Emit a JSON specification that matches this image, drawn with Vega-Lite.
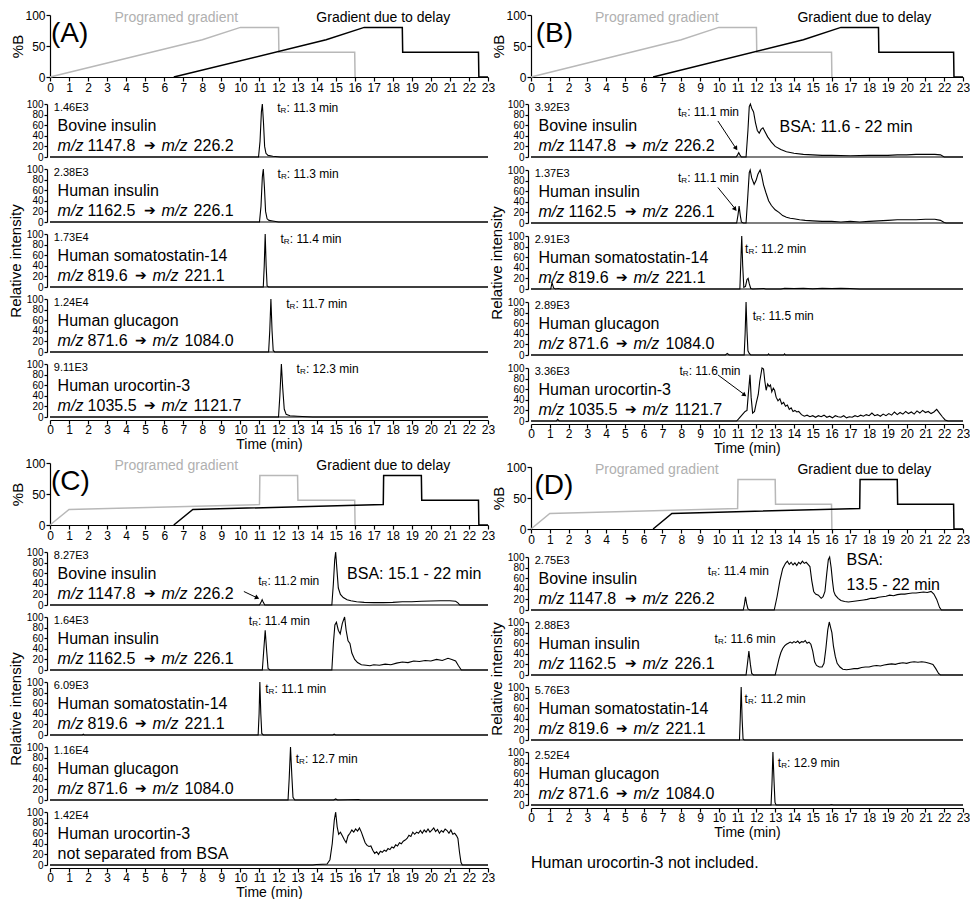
{
"$schema": "https://vega.github.io/schema/vega-lite/v6.json",
"padding": {"left": 8, "top": 9, "right": 0, "bottom": 0},
"config": {"font": "Liberation Sans", "view": {"stroke": null},
 "axis": {"grid": false, "labelOverlap": false, "domainColor": "black", "tickColor": "black", "labelColor": "black", "titleColor": "black", "labelFont": "Liberation Sans", "titleFont": "Liberation Sans", "domainWidth": 1.2, "tickWidth": 1.2},
 "header": {"titleFont": "Liberation Sans", "titleColor": "black"},
 "title": {"font": "Liberation Sans", "color": "black"}},
"datasets": {
"gAB": [{"g":"programed","t":0,"v":0},{"g":"programed","t":8,"v":60},{"g":"programed","t":10,"v":80},{"g":"programed","t":12,"v":80},{"g":"programed","t":12.02,"v":40},{"g":"programed","t":16,"v":40},{"g":"programed","t":16.02,"v":0},
{"g":"shifted","t":6.5,"v":0},{"g":"shifted","t":14.5,"v":60},{"g":"shifted","t":16.5,"v":80},{"g":"shifted","t":18.5,"v":80},{"g":"shifted","t":18.52,"v":40},{"g":"shifted","t":22.5,"v":40},{"g":"shifted","t":22.52,"v":0},{"g":"shifted","t":23,"v":0}],
"gCD": [{"g":"programed","t":0,"v":0},{"g":"programed","t":1,"v":25},{"g":"programed","t":11,"v":33},{"g":"programed","t":11.02,"v":80},{"g":"programed","t":13,"v":80},{"g":"programed","t":13.02,"v":40},{"g":"programed","t":16,"v":40},{"g":"programed","t":16.02,"v":0},
{"g":"shifted","t":6.5,"v":0},{"g":"shifted","t":7.5,"v":25},{"g":"shifted","t":17.5,"v":33},{"g":"shifted","t":17.52,"v":80},{"g":"shifted","t":19.5,"v":80},{"g":"shifted","t":19.52,"v":40},{"g":"shifted","t":22.5,"v":40},{"g":"shifted","t":22.52,"v":0},{"g":"shifted","t":23,"v":0}],
"tA": [
{"k":1,"t":0,"v":0},{"k":1,"t":10.95,"v":0},{"k":1,"t":11.03,"v":30},{"k":1,"t":11.1,"v":85},{"k":1,"t":11.15,"v":100},{"k":1,"t":11.21,"v":65},{"k":1,"t":11.27,"v":20},{"k":1,"t":11.34,"v":7},{"k":1,"t":11.45,"v":3},{"k":1,"t":11.7,"v":1.5},{"k":1,"t":12.1,"v":0},{"k":1,"t":23,"v":0},
{"k":2,"t":0,"v":0},{"k":2,"t":11.0,"v":0},{"k":2,"t":11.08,"v":30},{"k":2,"t":11.15,"v":85},{"k":2,"t":11.2,"v":100},{"k":2,"t":11.26,"v":65},{"k":2,"t":11.32,"v":20},{"k":2,"t":11.4,"v":6},{"k":2,"t":11.5,"v":3},{"k":2,"t":11.7,"v":2},{"k":2,"t":12.0,"v":0},{"k":2,"t":23,"v":0},
{"k":3,"t":0,"v":0},{"k":3,"t":11.2,"v":0},{"k":3,"t":11.25,"v":40},{"k":3,"t":11.3,"v":100},{"k":3,"t":11.35,"v":40},{"k":3,"t":11.4,"v":2},{"k":3,"t":11.48,"v":0},{"k":3,"t":23,"v":0},
{"k":4,"t":0,"v":0},{"k":4,"t":11.48,"v":0},{"k":4,"t":11.54,"v":40},{"k":4,"t":11.6,"v":100},{"k":4,"t":11.66,"v":40},{"k":4,"t":11.72,"v":3},{"k":4,"t":11.8,"v":0},{"k":4,"t":23,"v":0},
{"k":5,"t":0,"v":0},{"k":5,"t":12.0,"v":0},{"k":5,"t":12.07,"v":40},{"k":5,"t":12.15,"v":100},{"k":5,"t":12.22,"v":55},{"k":5,"t":12.3,"v":15},{"k":5,"t":12.4,"v":5},{"k":5,"t":12.6,"v":2.5},{"k":5,"t":13.0,"v":1.5},{"k":5,"t":13.5,"v":0.5},{"k":5,"t":13.8,"v":0},{"k":5,"t":23,"v":0},
{"k":1,"inten":"1.46E3","name":"Bovine insulin","pre":"1147.8","pro":"226.2","lx":11.93,"ly":92,"tr":": 11.3 min"},
{"k":2,"inten":"2.38E3","name":"Human insulin","pre":"1162.5","pro":"226.1","lx":11.95,"ly":90,"tr":": 11.3 min"},
{"k":3,"inten":"1.73E4","name":"Human somatostatin-14","pre":"819.6","pro":"221.1","lx":12.1,"ly":90,"tr":": 11.4 min"},
{"k":4,"inten":"1.24E4","name":"Human glucagon","pre":"871.6","pro":"1084.0","lx":12.4,"ly":90,"tr":": 11.7 min"},
{"k":5,"inten":"9.11E3","name":"Human urocortin-3","pre":"1035.5","pro":"1121.7","lx":12.95,"ly":90,"tr":": 12.3 min"}
],
"tB": [
{"k":1,"t":0,"v":0},{"k":1,"t":10.92,"v":0},{"k":1,"t":11.0,"v":4},{"k":1,"t":11.06,"v":8},{"k":1,"t":11.12,"v":4},{"k":1,"t":11.2,"v":0},{"k":1,"t":11.45,"v":0},{"k":1,"t":11.55,"v":50},{"k":1,"t":11.62,"v":95},{"k":1,"t":11.68,"v":100},{"k":1,"t":11.75,"v":92},{"k":1,"t":11.85,"v":85},{"k":1,"t":11.95,"v":65},{"k":1,"t":12.05,"v":50},{"k":1,"t":12.15,"v":45},{"k":1,"t":12.25,"v":52},{"k":1,"t":12.35,"v":55},{"k":1,"t":12.45,"v":48},{"k":1,"t":12.6,"v":38},{"k":1,"t":12.8,"v":28},{"k":1,"t":13.0,"v":20},{"k":1,"t":13.3,"v":14},{"k":1,"t":13.6,"v":10},{"k":1,"t":14.0,"v":7},{"k":1,"t":14.5,"v":5},{"k":1,"t":15.0,"v":4},{"k":1,"t":15.5,"v":3},{"k":1,"t":16.0,"v":3},{"k":1,"t":17.0,"v":2.5},{"k":1,"t":18.0,"v":3},{"k":1,"t":19.0,"v":3},{"k":1,"t":19.5,"v":4},{"k":1,"t":20.0,"v":4},{"k":1,"t":20.5,"v":5},{"k":1,"t":21.0,"v":5},{"k":1,"t":21.5,"v":5},{"k":1,"t":21.8,"v":4},{"k":1,"t":22.0,"v":0},{"k":1,"t":23,"v":0},
{"k":2,"t":0,"v":0},{"k":2,"t":10.95,"v":0},{"k":2,"t":11.02,"v":15},{"k":2,"t":11.08,"v":32},{"k":2,"t":11.14,"v":15},{"k":2,"t":11.2,"v":2},{"k":2,"t":11.3,"v":0},{"k":2,"t":11.45,"v":0},{"k":2,"t":11.55,"v":55},{"k":2,"t":11.62,"v":95},{"k":2,"t":11.67,"v":100},{"k":2,"t":11.75,"v":85},{"k":2,"t":11.88,"v":73},{"k":2,"t":11.98,"v":80},{"k":2,"t":12.08,"v":92},{"k":2,"t":12.2,"v":100},{"k":2,"t":12.28,"v":90},{"k":2,"t":12.38,"v":72},{"k":2,"t":12.5,"v":58},{"k":2,"t":12.65,"v":42},{"k":2,"t":12.8,"v":33},{"k":2,"t":13.0,"v":25},{"k":2,"t":13.2,"v":20},{"k":2,"t":13.4,"v":14},{"k":2,"t":13.6,"v":11},{"k":2,"t":13.8,"v":9},{"k":2,"t":14.0,"v":8},{"k":2,"t":14.3,"v":6},{"k":2,"t":14.6,"v":5},{"k":2,"t":15.0,"v":4},{"k":2,"t":15.5,"v":3},{"k":2,"t":16.0,"v":3},{"k":2,"t":16.5,"v":2},{"k":2,"t":17.0,"v":3},{"k":2,"t":17.5,"v":2},{"k":2,"t":18.0,"v":3},{"k":2,"t":18.5,"v":4},{"k":2,"t":19.0,"v":5},{"k":2,"t":19.5,"v":6},{"k":2,"t":20.0,"v":6},{"k":2,"t":20.5,"v":6},{"k":2,"t":21.0,"v":7},{"k":2,"t":21.5,"v":7},{"k":2,"t":21.8,"v":5},{"k":2,"t":22.0,"v":1},{"k":2,"t":22.1,"v":0},{"k":2,"t":23,"v":0},
{"k":3,"t":0,"v":0},{"k":3,"t":1.05,"v":0},{"k":3,"t":1.12,"v":12},{"k":3,"t":1.2,"v":2},{"k":3,"t":1.3,"v":0},{"k":3,"t":1.45,"v":1},{"k":3,"t":1.6,"v":0},{"k":3,"t":11.12,"v":0},{"k":3,"t":11.17,"v":50},{"k":3,"t":11.22,"v":100},{"k":3,"t":11.27,"v":45},{"k":3,"t":11.33,"v":3},{"k":3,"t":11.42,"v":5},{"k":3,"t":11.5,"v":18},{"k":3,"t":11.56,"v":20},{"k":3,"t":11.62,"v":10},{"k":3,"t":11.7,"v":1},{"k":3,"t":11.8,"v":0},{"k":3,"t":12.4,"v":1},{"k":3,"t":12.5,"v":0},{"k":3,"t":13.3,"v":0},{"k":3,"t":13.5,"v":1.5},{"k":3,"t":14.0,"v":1},{"k":3,"t":14.5,"v":1.5},{"k":3,"t":15.0,"v":0.5},{"k":3,"t":15.5,"v":1.5},{"k":3,"t":16.0,"v":1},{"k":3,"t":16.5,"v":1.5},{"k":3,"t":17.0,"v":1},{"k":3,"t":17.5,"v":0},{"k":3,"t":23,"v":0},
{"k":4,"t":0,"v":0},{"k":4,"t":10.35,"v":0},{"k":4,"t":10.45,"v":3},{"k":4,"t":10.55,"v":0},{"k":4,"t":11.35,"v":0},{"k":4,"t":11.4,"v":40},{"k":4,"t":11.45,"v":100},{"k":4,"t":11.5,"v":45},{"k":4,"t":11.55,"v":8},{"k":4,"t":11.62,"v":3},{"k":4,"t":11.7,"v":0},{"k":4,"t":12.6,"v":0},{"k":4,"t":12.65,"v":2},{"k":4,"t":12.7,"v":0},{"k":4,"t":13.45,"v":0},{"k":4,"t":13.5,"v":2},{"k":4,"t":13.55,"v":0},{"k":4,"t":23,"v":0},
{"k":5,"t":0,"v":0},{"k":5,"t":1.35,"v":0},{"k":5,"t":1.42,"v":3},{"k":5,"t":1.5,"v":0},{"k":5,"t":10.95,"v":0},{"k":5,"t":11.1,"v":6},{"k":5,"t":11.25,"v":12},{"k":5,"t":11.4,"v":18},{"k":5,"t":11.5,"v":20},{"k":5,"t":11.58,"v":55},{"k":5,"t":11.66,"v":87},{"k":5,"t":11.72,"v":45},{"k":5,"t":11.8,"v":15},{"k":5,"t":11.9,"v":18},{"k":5,"t":12.0,"v":35},{"k":5,"t":12.1,"v":50},{"k":5,"t":12.18,"v":75},{"k":5,"t":12.3,"v":100},{"k":5,"t":12.38,"v":98},{"k":5,"t":12.45,"v":75},{"k":5,"t":12.52,"v":58},{"k":5,"t":12.6,"v":70},{"k":5,"t":12.68,"v":65},{"k":5,"t":12.75,"v":68},{"k":5,"t":12.82,"v":55},{"k":5,"t":12.9,"v":62},{"k":5,"t":12.97,"v":58},{"k":5,"t":13.05,"v":45},{"k":5,"t":13.15,"v":38},{"k":5,"t":13.25,"v":42},{"k":5,"t":13.35,"v":32},{"k":5,"t":13.45,"v":35},{"k":5,"t":13.55,"v":28},{"k":5,"t":13.65,"v":30},{"k":5,"t":13.75,"v":22},{"k":5,"t":13.85,"v":25},{"k":5,"t":13.95,"v":18},{"k":5,"t":14.05,"v":20},{"k":5,"t":14.15,"v":17},{"k":5,"t":14.25,"v":18},{"k":5,"t":14.4,"v":12},{"k":5,"t":14.55,"v":9},{"k":5,"t":14.7,"v":11},{"k":5,"t":14.85,"v":8},{"k":5,"t":15.0,"v":10},{"k":5,"t":15.15,"v":7},{"k":5,"t":15.3,"v":10},{"k":5,"t":15.45,"v":8},{"k":5,"t":15.6,"v":11},{"k":5,"t":15.75,"v":7},{"k":5,"t":15.9,"v":9},{"k":5,"t":16.05,"v":6},{"k":5,"t":16.2,"v":10},{"k":5,"t":16.35,"v":8},{"k":5,"t":16.5,"v":7},{"k":5,"t":16.65,"v":10},{"k":5,"t":16.8,"v":6},{"k":5,"t":16.95,"v":8},{"k":5,"t":17.1,"v":7},{"k":5,"t":17.25,"v":10},{"k":5,"t":17.4,"v":8},{"k":5,"t":17.55,"v":11},{"k":5,"t":17.7,"v":9},{"k":5,"t":17.85,"v":12},{"k":5,"t":18.0,"v":10},{"k":5,"t":18.15,"v":15},{"k":5,"t":18.3,"v":10},{"k":5,"t":18.45,"v":12},{"k":5,"t":18.6,"v":9},{"k":5,"t":18.75,"v":13},{"k":5,"t":18.9,"v":10},{"k":5,"t":19.05,"v":14},{"k":5,"t":19.2,"v":11},{"k":5,"t":19.35,"v":17},{"k":5,"t":19.5,"v":12},{"k":5,"t":19.65,"v":16},{"k":5,"t":19.8,"v":13},{"k":5,"t":19.95,"v":18},{"k":5,"t":20.1,"v":14},{"k":5,"t":20.25,"v":17},{"k":5,"t":20.4,"v":13},{"k":5,"t":20.55,"v":19},{"k":5,"t":20.7,"v":15},{"k":5,"t":20.85,"v":20},{"k":5,"t":21.0,"v":16},{"k":5,"t":21.15,"v":18},{"k":5,"t":21.3,"v":14},{"k":5,"t":21.45,"v":17},{"k":5,"t":21.6,"v":22},{"k":5,"t":21.75,"v":15},{"k":5,"t":21.9,"v":8},{"k":5,"t":22.05,"v":2},{"k":5,"t":22.2,"v":0},{"k":5,"t":23,"v":0},
{"k":1,"inten":"3.92E3","name":"Bovine insulin","pre":"1147.8","pro":"226.2","lx":7.82,"ly":85,"tr":": 11.1 min"},
{"k":2,"inten":"1.37E3","name":"Human insulin","pre":"1162.5","pro":"226.1","lx":7.82,"ly":84,"tr":": 11.1 min"},
{"k":3,"inten":"2.91E3","name":"Human somatostatin-14","pre":"819.6","pro":"221.1","lx":11.4,"ly":76,"tr":": 11.2 min"},
{"k":4,"inten":"2.89E3","name":"Human glucagon","pre":"871.6","pro":"1084.0","lx":11.8,"ly":73,"tr":": 11.5 min"},
{"k":5,"inten":"3.36E3","name":"Human urocortin-3","pre":"1035.5","pro":"1121.7","lx":7.9,"ly":95,"tr":": 11.6 min"},
{"k":1,"note":"BSA: 11.6 - 22 min","nx":13.23,"ny":57}
],
"tC": [
{"k":1,"t":0,"v":0},{"k":1,"t":11.0,"v":0},{"k":1,"t":11.08,"v":5},{"k":1,"t":11.14,"v":10},{"k":1,"t":11.2,"v":5},{"k":1,"t":11.28,"v":0},{"k":1,"t":14.8,"v":0},{"k":1,"t":14.88,"v":40},{"k":1,"t":14.95,"v":85},{"k":1,"t":15.0,"v":100},{"k":1,"t":15.06,"v":70},{"k":1,"t":15.14,"v":32},{"k":1,"t":15.25,"v":20},{"k":1,"t":15.4,"v":14},{"k":1,"t":15.6,"v":10},{"k":1,"t":15.8,"v":8},{"k":1,"t":16.1,"v":6},{"k":1,"t":16.5,"v":5},{"k":1,"t":17.0,"v":4.5},{"k":1,"t":17.5,"v":4.5},{"k":1,"t":18.0,"v":5},{"k":1,"t":18.5,"v":6},{"k":1,"t":19.0,"v":6},{"k":1,"t":19.5,"v":7},{"k":1,"t":20.0,"v":7.5},{"k":1,"t":20.5,"v":8},{"k":1,"t":21.0,"v":8},{"k":1,"t":21.3,"v":7},{"k":1,"t":21.42,"v":4},{"k":1,"t":21.52,"v":0},{"k":1,"t":23,"v":0},
{"k":2,"t":0,"v":0},{"k":2,"t":11.15,"v":0},{"k":2,"t":11.22,"v":35},{"k":2,"t":11.3,"v":75},{"k":2,"t":11.38,"v":35},{"k":2,"t":11.45,"v":3},{"k":2,"t":11.55,"v":0},{"k":2,"t":14.8,"v":0},{"k":2,"t":14.88,"v":50},{"k":2,"t":14.96,"v":85},{"k":2,"t":15.04,"v":90},{"k":2,"t":15.14,"v":75},{"k":2,"t":15.24,"v":68},{"k":2,"t":15.35,"v":88},{"k":2,"t":15.47,"v":100},{"k":2,"t":15.55,"v":75},{"k":2,"t":15.65,"v":55},{"k":2,"t":15.75,"v":50},{"k":2,"t":15.85,"v":32},{"k":2,"t":16.0,"v":20},{"k":2,"t":16.15,"v":14},{"k":2,"t":16.35,"v":10},{"k":2,"t":16.6,"v":9},{"k":2,"t":16.8,"v":8},{"k":2,"t":17.0,"v":10},{"k":2,"t":17.3,"v":9},{"k":2,"t":17.6,"v":11},{"k":2,"t":17.9,"v":10},{"k":2,"t":18.2,"v":13},{"k":2,"t":18.5,"v":15},{"k":2,"t":18.8,"v":14},{"k":2,"t":19.1,"v":17},{"k":2,"t":19.4,"v":16},{"k":2,"t":19.7,"v":18},{"k":2,"t":20.0,"v":17},{"k":2,"t":20.3,"v":20},{"k":2,"t":20.6,"v":18},{"k":2,"t":20.9,"v":22},{"k":2,"t":21.1,"v":20},{"k":2,"t":21.3,"v":17},{"k":2,"t":21.45,"v":8},{"k":2,"t":21.6,"v":0},{"k":2,"t":23,"v":0},
{"k":3,"t":0,"v":0},{"k":3,"t":1.7,"v":0},{"k":3,"t":1.75,"v":1.5},{"k":3,"t":1.8,"v":0},{"k":3,"t":10.93,"v":0},{"k":3,"t":10.98,"v":40},{"k":3,"t":11.02,"v":100},{"k":3,"t":11.07,"v":40},{"k":3,"t":11.12,"v":3},{"k":3,"t":11.2,"v":0},{"k":3,"t":14.85,"v":0},{"k":3,"t":14.92,"v":1.5},{"k":3,"t":15.0,"v":0},{"k":3,"t":23,"v":0},
{"k":4,"t":0,"v":0},{"k":4,"t":12.5,"v":0},{"k":4,"t":12.56,"v":40},{"k":4,"t":12.63,"v":100},{"k":4,"t":12.7,"v":45},{"k":4,"t":12.76,"v":5},{"k":4,"t":12.85,"v":0},{"k":4,"t":14.9,"v":0},{"k":4,"t":15.0,"v":2},{"k":4,"t":15.1,"v":0},{"k":4,"t":16.2,"v":1},{"k":4,"t":16.3,"v":0},{"k":4,"t":23,"v":0},
{"k":5,"t":0,"v":0},{"k":5,"t":13.8,"v":0},{"k":5,"t":14.0,"v":1},{"k":5,"t":14.3,"v":1.5},{"k":5,"t":14.55,"v":2},{"k":5,"t":14.7,"v":10},{"k":5,"t":14.82,"v":40},{"k":5,"t":14.93,"v":85},{"k":5,"t":15.0,"v":100},{"k":5,"t":15.08,"v":72},{"k":5,"t":15.16,"v":58},{"k":5,"t":15.25,"v":62},{"k":5,"t":15.35,"v":55},{"k":5,"t":15.45,"v":48},{"k":5,"t":15.55,"v":42},{"k":5,"t":15.65,"v":55},{"k":5,"t":15.75,"v":60},{"k":5,"t":15.85,"v":66},{"k":5,"t":15.95,"v":62},{"k":5,"t":16.05,"v":68},{"k":5,"t":16.15,"v":64},{"k":5,"t":16.25,"v":70},{"k":5,"t":16.35,"v":62},{"k":5,"t":16.45,"v":52},{"k":5,"t":16.55,"v":42},{"k":5,"t":16.65,"v":37},{"k":5,"t":16.75,"v":35},{"k":5,"t":16.85,"v":36},{"k":5,"t":16.95,"v":28},{"k":5,"t":17.05,"v":22},{"k":5,"t":17.15,"v":25},{"k":5,"t":17.25,"v":20},{"k":5,"t":17.35,"v":26},{"k":5,"t":17.45,"v":24},{"k":5,"t":17.55,"v":28},{"k":5,"t":17.65,"v":26},{"k":5,"t":17.75,"v":31},{"k":5,"t":17.85,"v":29},{"k":5,"t":17.95,"v":34},{"k":5,"t":18.05,"v":32},{"k":5,"t":18.15,"v":38},{"k":5,"t":18.25,"v":36},{"k":5,"t":18.35,"v":42},{"k":5,"t":18.45,"v":40},{"k":5,"t":18.55,"v":45},{"k":5,"t":18.65,"v":47},{"k":5,"t":18.75,"v":50},{"k":5,"t":18.85,"v":56},{"k":5,"t":18.95,"v":54},{"k":5,"t":19.05,"v":62},{"k":5,"t":19.15,"v":58},{"k":5,"t":19.25,"v":62},{"k":5,"t":19.35,"v":60},{"k":5,"t":19.45,"v":65},{"k":5,"t":19.55,"v":60},{"k":5,"t":19.65,"v":66},{"k":5,"t":19.75,"v":62},{"k":5,"t":19.85,"v":68},{"k":5,"t":19.95,"v":62},{"k":5,"t":20.05,"v":66},{"k":5,"t":20.15,"v":70},{"k":5,"t":20.25,"v":63},{"k":5,"t":20.35,"v":67},{"k":5,"t":20.45,"v":60},{"k":5,"t":20.55,"v":65},{"k":5,"t":20.65,"v":62},{"k":5,"t":20.75,"v":68},{"k":5,"t":20.85,"v":65},{"k":5,"t":20.95,"v":60},{"k":5,"t":21.05,"v":66},{"k":5,"t":21.15,"v":58},{"k":5,"t":21.25,"v":60},{"k":5,"t":21.35,"v":55},{"k":5,"t":21.42,"v":50},{"k":5,"t":21.5,"v":25},{"k":5,"t":21.58,"v":5},{"k":5,"t":21.65,"v":0},{"k":5,"t":23,"v":0},
{"k":1,"inten":"8.27E3","name":"Bovine insulin","pre":"1147.8","pro":"226.2","lx":10.93,"ly":45,"tr":": 11.2 min"},
{"k":2,"inten":"1.64E3","name":"Human insulin","pre":"1162.5","pro":"226.1","lx":10.44,"ly":93,"tr":": 11.4 min"},
{"k":3,"inten":"6.09E3","name":"Human somatostatin-14","pre":"819.6","pro":"221.1","lx":11.3,"ly":87,"tr":": 11.1 min"},
{"k":4,"inten":"1.16E4","name":"Human glucagon","pre":"871.6","pro":"1084.0","lx":12.9,"ly":77,"tr":": 12.7 min"},
{"k":5,"inten":"1.42E4","name":"Human urocortin-3","mz":"not separated from BSA"},
{"k":1,"note":"BSA: 15.1 - 22 min","nx":15.6,"ny":58}
],
"tD": [
{"k":1,"t":0,"v":0},{"k":1,"t":11.3,"v":0},{"k":1,"t":11.36,"v":10},{"k":1,"t":11.42,"v":25},{"k":1,"t":11.48,"v":12},{"k":1,"t":11.55,"v":2},{"k":1,"t":11.65,"v":0},{"k":1,"t":12.95,"v":0},{"k":1,"t":13.1,"v":25},{"k":1,"t":13.25,"v":55},{"k":1,"t":13.4,"v":78},{"k":1,"t":13.55,"v":88},{"k":1,"t":13.65,"v":92},{"k":1,"t":13.75,"v":86},{"k":1,"t":13.85,"v":90},{"k":1,"t":13.95,"v":85},{"k":1,"t":14.05,"v":89},{"k":1,"t":14.15,"v":84},{"k":1,"t":14.25,"v":90},{"k":1,"t":14.35,"v":87},{"k":1,"t":14.45,"v":92},{"k":1,"t":14.55,"v":88},{"k":1,"t":14.65,"v":90},{"k":1,"t":14.75,"v":86},{"k":1,"t":14.85,"v":82},{"k":1,"t":14.95,"v":55},{"k":1,"t":15.05,"v":35},{"k":1,"t":15.15,"v":30},{"k":1,"t":15.3,"v":28},{"k":1,"t":15.45,"v":22},{"k":1,"t":15.55,"v":25},{"k":1,"t":15.65,"v":35},{"k":1,"t":15.75,"v":70},{"k":1,"t":15.83,"v":95},{"k":1,"t":15.9,"v":100},{"k":1,"t":15.98,"v":80},{"k":1,"t":16.05,"v":55},{"k":1,"t":16.12,"v":35},{"k":1,"t":16.2,"v":28},{"k":1,"t":16.35,"v":22},{"k":1,"t":16.5,"v":18},{"k":1,"t":16.7,"v":16},{"k":1,"t":16.9,"v":15},{"k":1,"t":17.1,"v":16},{"k":1,"t":17.3,"v":17},{"k":1,"t":17.5,"v":18},{"k":1,"t":17.7,"v":19},{"k":1,"t":17.9,"v":20},{"k":1,"t":18.1,"v":22},{"k":1,"t":18.3,"v":22},{"k":1,"t":18.5,"v":24},{"k":1,"t":18.7,"v":25},{"k":1,"t":18.9,"v":26},{"k":1,"t":19.1,"v":28},{"k":1,"t":19.3,"v":27},{"k":1,"t":19.5,"v":29},{"k":1,"t":19.7,"v":30},{"k":1,"t":19.9,"v":30},{"k":1,"t":20.1,"v":31},{"k":1,"t":20.3,"v":32},{"k":1,"t":20.5,"v":32},{"k":1,"t":20.7,"v":33},{"k":1,"t":20.9,"v":34},{"k":1,"t":21.1,"v":33},{"k":1,"t":21.3,"v":35},{"k":1,"t":21.45,"v":30},{"k":1,"t":21.6,"v":20},{"k":1,"t":21.75,"v":5},{"k":1,"t":21.85,"v":0},{"k":1,"t":23,"v":0},
{"k":2,"t":0,"v":0},{"k":2,"t":11.45,"v":0},{"k":2,"t":11.52,"v":20},{"k":2,"t":11.6,"v":45},{"k":2,"t":11.68,"v":20},{"k":2,"t":11.75,"v":3},{"k":2,"t":11.85,"v":0},{"k":2,"t":13.0,"v":0},{"k":2,"t":13.1,"v":15},{"k":2,"t":13.2,"v":30},{"k":2,"t":13.3,"v":42},{"k":2,"t":13.4,"v":50},{"k":2,"t":13.5,"v":55},{"k":2,"t":13.6,"v":58},{"k":2,"t":13.7,"v":60},{"k":2,"t":13.8,"v":62},{"k":2,"t":13.9,"v":60},{"k":2,"t":14.0,"v":63},{"k":2,"t":14.1,"v":61},{"k":2,"t":14.2,"v":64},{"k":2,"t":14.3,"v":60},{"k":2,"t":14.4,"v":63},{"k":2,"t":14.5,"v":62},{"k":2,"t":14.6,"v":65},{"k":2,"t":14.7,"v":60},{"k":2,"t":14.8,"v":62},{"k":2,"t":14.9,"v":58},{"k":2,"t":15.0,"v":45},{"k":2,"t":15.1,"v":25},{"k":2,"t":15.2,"v":18},{"k":2,"t":15.35,"v":15},{"k":2,"t":15.5,"v":15},{"k":2,"t":15.6,"v":22},{"k":2,"t":15.7,"v":50},{"k":2,"t":15.8,"v":85},{"k":2,"t":15.88,"v":100},{"k":2,"t":15.95,"v":90},{"k":2,"t":16.02,"v":80},{"k":2,"t":16.1,"v":55},{"k":2,"t":16.2,"v":35},{"k":2,"t":16.3,"v":22},{"k":2,"t":16.45,"v":15},{"k":2,"t":16.6,"v":11},{"k":2,"t":16.8,"v":10},{"k":2,"t":17.0,"v":11},{"k":2,"t":17.2,"v":12},{"k":2,"t":17.4,"v":12},{"k":2,"t":17.6,"v":14},{"k":2,"t":17.8,"v":15},{"k":2,"t":18.0,"v":15},{"k":2,"t":18.2,"v":17},{"k":2,"t":18.4,"v":18},{"k":2,"t":18.6,"v":17},{"k":2,"t":18.8,"v":19},{"k":2,"t":19.0,"v":20},{"k":2,"t":19.2,"v":21},{"k":2,"t":19.4,"v":20},{"k":2,"t":19.6,"v":22},{"k":2,"t":19.8,"v":23},{"k":2,"t":20.0,"v":22},{"k":2,"t":20.2,"v":24},{"k":2,"t":20.4,"v":25},{"k":2,"t":20.6,"v":24},{"k":2,"t":20.8,"v":25},{"k":2,"t":21.0,"v":24},{"k":2,"t":21.2,"v":22},{"k":2,"t":21.4,"v":20},{"k":2,"t":21.55,"v":12},{"k":2,"t":21.7,"v":3},{"k":2,"t":21.8,"v":0},{"k":2,"t":23,"v":0},
{"k":3,"t":0,"v":0},{"k":3,"t":11.1,"v":0},{"k":3,"t":11.14,"v":40},{"k":3,"t":11.19,"v":100},{"k":3,"t":11.24,"v":40},{"k":3,"t":11.29,"v":2},{"k":3,"t":11.35,"v":0},{"k":3,"t":23,"v":0},
{"k":4,"t":0,"v":0},{"k":4,"t":12.78,"v":0},{"k":4,"t":12.83,"v":40},{"k":4,"t":12.88,"v":100},{"k":4,"t":12.94,"v":45},{"k":4,"t":12.99,"v":5},{"k":4,"t":13.05,"v":0},{"k":4,"t":15.9,"v":0},{"k":4,"t":16.0,"v":1},{"k":4,"t":16.1,"v":0},{"k":4,"t":23,"v":0},
{"k":1,"inten":"2.75E3","name":"Bovine insulin","pre":"1147.8","pro":"226.2","lx":9.41,"ly":73,"tr":": 11.4 min"},
{"k":2,"inten":"2.88E3","name":"Human insulin","pre":"1162.5","pro":"226.1","lx":9.77,"ly":68,"tr":": 11.6 min"},
{"k":3,"inten":"5.76E3","name":"Human somatostatin-14","pre":"819.6","pro":"221.1","lx":11.37,"ly":78,"tr":": 11.2 min"},
{"k":4,"inten":"2.52E4","name":"Human glucagon","pre":"871.6","pro":"1084.0","lx":13.14,"ly":80,"tr":": 12.9 min"},
{"k":1,"note":"BSA:","nx":16.8,"ny":95},
{"k":1,"note":"13.5 - 22 min","nx":16.8,"ny":48}
]
},
"spacing": -6,
"hconcat": [
{"spacing": 6, "vconcat": [
 {"width": 438, "height": 62, "layer": [
  {"data": {"name": "gAB"}, "mark": {"type": "line", "strokeWidth": 1.5}, "encoding": {
    "x": {"field": "t", "type": "quantitative", "scale": {"domain": [0, 23], "nice": false}, "axis": {"values": [0,1,2,3,4,5,6,7,8,9,10,11,12,13,14,15,16,17,18,19,20,21,22,23], "tickCount": 30, "labelFontSize": 12, "labelFlush": false, "labelOverlap": false, "tickSize": 4, "labelPadding": 1, "title": null}},
    "y": {"field": "v", "type": "quantitative", "scale": {"domain": [0, 100]}, "axis": {"values": [0, 50, 100], "tickCount": 10, "labelFontSize": 12, "labelOverlap": false, "tickSize": 4, "labelPadding": 1, "title": "%B", "titleFontSize": 15, "titleFontWeight": "normal", "titlePadding": -1}},
    "color": {"field": "g", "type": "nominal", "scale": {"domain": ["programed", "shifted"], "range": ["#b8b8b8", "#000000"]}, "legend": null}}},
  {"data": {"values": [{"s": "(A)"}]}, "mark": {"type": "text", "align": "left", "baseline": "middle", "fontSize": 28, "color": "black"}, "encoding": {"x": {"datum": 0.05}, "y": {"datum": 69}, "text": {"field": "s"}}},
  {"data": {"values": [{"s": "Programed gradient"}]}, "mark": {"type": "text", "align": "center", "baseline": "middle", "fontSize": 14, "color": "#b0b0b0"}, "encoding": {"x": {"datum": 6.63}, "y": {"datum": 95}, "text": {"field": "s"}}},
  {"data": {"values": [{"s": "Gradient due to delay"}]}, "mark": {"type": "text", "align": "center", "baseline": "middle", "fontSize": 14, "color": "black"}, "encoding": {"x": {"datum": 17.5}, "y": {"datum": 95}, "text": {"field": "s"}}}
 ]},
 {"data": {"name": "tA"}, "spacing": {"row": 6},
  "facet": {"row": {"field": "k", "type": "ordinal", "header": {"labels": false, "title": "Relative intensity", "titleFontSize": 15, "titleFontWeight": "normal", "titlePadding": -8, "labelPadding": 0}}},
  "spec": {"width": 438, "height": 53, "layer": [
   {"transform": [{"filter": "isValid(datum.name)"}], "mark": {"type": "rule", "color": "black", "strokeWidth": 1.2}, "encoding": {"y": {"datum": 0}}},
   {"transform": [{"filter": "isValid(datum.v)"}], "mark": {"type": "line", "color": "black", "strokeWidth": 1.1}, "encoding": {
     "x": {"field": "t", "type": "quantitative", "scale": {"domain": [0, 23], "nice": false}, "axis": {"values": [0,1,2,3,4,5,6,7,8,9,10,11,12,13,14,15,16,17,18,19,20,21,22,23], "tickCount": 30, "labelFontSize": 12, "labelFlush": false, "labelOverlap": false, "tickSize": 4, "labelPadding": 0, "title": "Time (min)", "titleFontSize": 14, "titleFontWeight": "normal", "titlePadding": 2}},
     "y": {"field": "v", "type": "quantitative", "scale": {"domain": [0, 100], "nice": false}, "axis": {"values": [0,20,40,60,80,100], "tickCount": 12, "labelFontSize": 10, "tickSize": 3, "labelPadding": 1, "title": null, "labelOverlap": false}}}},
   {"transform": [{"filter": "isValid(datum.name)"}], "mark": {"type": "text", "align": "left", "baseline": "middle", "fontSize": 11, "color": "black"}, "encoding": {"x": {"datum": 0.2}, "y": {"datum": 92}, "text": {"field": "inten"}}},
   {"transform": [{"filter": "isValid(datum.name)"}], "mark": {"type": "text", "align": "left", "baseline": "middle", "fontSize": 16, "color": "black"}, "encoding": {"x": {"datum": 0.4}, "y": {"datum": 58}, "text": {"field": "name"}}},
   {"transform": [{"filter": "isValid(datum.pre)"}], "mark": {"type": "text", "align": "left", "baseline": "middle", "fontSize": 16, "fontStyle": "italic", "color": "black"}, "encoding": {"x": {"datum": 0.4}, "y": {"datum": 20}, "text": {"value": "m/z"}}},
   {"transform": [{"filter": "isValid(datum.pre)"}], "mark": {"type": "text", "align": "left", "baseline": "middle", "fontSize": 16, "dx": 30, "color": "black"}, "encoding": {"x": {"datum": 0.4}, "y": {"datum": 20}, "text": {"field": "pre"}}},
   {"transform": [{"filter": "isValid(datum.pre) && length(datum.pre) == 6"}], "mark": {"type": "text", "align": "center", "baseline": "middle", "fontSize": 14, "dx": 92, "color": "black"}, "encoding": {"x": {"datum": 0.4}, "y": {"datum": 20}, "text": {"value": "➔"}}},
   {"transform": [{"filter": "isValid(datum.pre) && length(datum.pre) == 5"}], "mark": {"type": "text", "align": "center", "baseline": "middle", "fontSize": 14, "dx": 83, "color": "black"}, "encoding": {"x": {"datum": 0.4}, "y": {"datum": 20}, "text": {"value": "➔"}}},
   {"transform": [{"filter": "isValid(datum.pre) && length(datum.pre) == 6"}], "mark": {"type": "text", "align": "left", "baseline": "middle", "fontSize": 16, "fontStyle": "italic", "dx": 104, "color": "black"}, "encoding": {"x": {"datum": 0.4}, "y": {"datum": 20}, "text": {"value": "m/z"}}},
   {"transform": [{"filter": "isValid(datum.pre) && length(datum.pre) == 5"}], "mark": {"type": "text", "align": "left", "baseline": "middle", "fontSize": 16, "fontStyle": "italic", "dx": 95, "color": "black"}, "encoding": {"x": {"datum": 0.4}, "y": {"datum": 20}, "text": {"value": "m/z"}}},
   {"transform": [{"filter": "isValid(datum.pre) && length(datum.pre) == 6"}], "mark": {"type": "text", "align": "left", "baseline": "middle", "fontSize": 16, "dx": 136, "color": "black"}, "encoding": {"x": {"datum": 0.4}, "y": {"datum": 20}, "text": {"field": "pro"}}},
   {"transform": [{"filter": "isValid(datum.pre) && length(datum.pre) == 5"}], "mark": {"type": "text", "align": "left", "baseline": "middle", "fontSize": 16, "dx": 127, "color": "black"}, "encoding": {"x": {"datum": 0.4}, "y": {"datum": 20}, "text": {"field": "pro"}}},
   {"transform": [{"filter": "isValid(datum.lx)"}], "mark": {"type": "text", "align": "left", "baseline": "middle", "fontSize": 12, "color": "black"}, "encoding": {"x": {"field": "lx", "type": "quantitative"}, "y": {"field": "ly", "type": "quantitative"}, "text": {"value": "t"}}},
   {"transform": [{"filter": "isValid(datum.lx)"}], "mark": {"type": "text", "align": "left", "baseline": "middle", "fontSize": 8, "dx": 3.4, "dy": 3, "color": "black"}, "encoding": {"x": {"field": "lx", "type": "quantitative"}, "y": {"field": "ly", "type": "quantitative"}, "text": {"value": "R"}}},
   {"transform": [{"filter": "isValid(datum.lx)"}], "mark": {"type": "text", "align": "left", "baseline": "middle", "fontSize": 12, "dx": 9.3, "color": "black"}, "encoding": {"x": {"field": "lx", "type": "quantitative"}, "y": {"field": "ly", "type": "quantitative"}, "text": {"field": "tr"}}}
  ]}},
 {"width": 438, "height": 62, "layer": [
  {"data": {"name": "gCD"}, "mark": {"type": "line", "strokeWidth": 1.5}, "encoding": {
    "x": {"field": "t", "type": "quantitative", "scale": {"domain": [0, 23], "nice": false}, "axis": {"values": [0,1,2,3,4,5,6,7,8,9,10,11,12,13,14,15,16,17,18,19,20,21,22,23], "tickCount": 30, "labelFontSize": 12, "labelFlush": false, "labelOverlap": false, "tickSize": 4, "labelPadding": 1, "title": null}},
    "y": {"field": "v", "type": "quantitative", "scale": {"domain": [0, 100]}, "axis": {"values": [0, 50, 100], "tickCount": 10, "labelFontSize": 12, "labelOverlap": false, "tickSize": 4, "labelPadding": 1, "title": "%B", "titleFontSize": 15, "titleFontWeight": "normal", "titlePadding": -1}},
    "color": {"field": "g", "type": "nominal", "scale": {"domain": ["programed", "shifted"], "range": ["#b8b8b8", "#000000"]}, "legend": null}}},
  {"data": {"values": [{"s": "(C)"}]}, "mark": {"type": "text", "align": "left", "baseline": "middle", "fontSize": 28, "color": "black"}, "encoding": {"x": {"datum": 0.05}, "y": {"datum": 69}, "text": {"field": "s"}}},
  {"data": {"values": [{"s": "Programed gradient"}]}, "mark": {"type": "text", "align": "center", "baseline": "middle", "fontSize": 14, "color": "#b0b0b0"}, "encoding": {"x": {"datum": 6.63}, "y": {"datum": 95}, "text": {"field": "s"}}},
  {"data": {"values": [{"s": "Gradient due to delay"}]}, "mark": {"type": "text", "align": "center", "baseline": "middle", "fontSize": 14, "color": "black"}, "encoding": {"x": {"datum": 17.5}, "y": {"datum": 95}, "text": {"field": "s"}}}
 ]},
 {"data": {"name": "tC"}, "spacing": {"row": 6},
  "facet": {"row": {"field": "k", "type": "ordinal", "header": {"labels": false, "title": "Relative intensity", "titleFontSize": 15, "titleFontWeight": "normal", "titlePadding": -8, "labelPadding": 0}}},
  "spec": {"width": 438, "height": 53, "layer": [
   {"transform": [{"filter": "isValid(datum.name)"}], "mark": {"type": "rule", "color": "black", "strokeWidth": 1.2}, "encoding": {"y": {"datum": 0}}},
   {"transform": [{"filter": "isValid(datum.v)"}], "mark": {"type": "line", "color": "black", "strokeWidth": 1.1}, "encoding": {
     "x": {"field": "t", "type": "quantitative", "scale": {"domain": [0, 23], "nice": false}, "axis": {"values": [0,1,2,3,4,5,6,7,8,9,10,11,12,13,14,15,16,17,18,19,20,21,22,23], "tickCount": 30, "labelFontSize": 12, "labelFlush": false, "labelOverlap": false, "tickSize": 4, "labelPadding": 0, "title": "Time (min)", "titleFontSize": 14, "titleFontWeight": "normal", "titlePadding": 2}},
     "y": {"field": "v", "type": "quantitative", "scale": {"domain": [0, 100], "nice": false}, "axis": {"values": [0,20,40,60,80,100], "tickCount": 12, "labelFontSize": 10, "tickSize": 3, "labelPadding": 1, "title": null, "labelOverlap": false}}}},
   {"transform": [{"filter": "isValid(datum.name)"}], "mark": {"type": "text", "align": "left", "baseline": "middle", "fontSize": 11, "color": "black"}, "encoding": {"x": {"datum": 0.2}, "y": {"datum": 92}, "text": {"field": "inten"}}},
   {"transform": [{"filter": "isValid(datum.name)"}], "mark": {"type": "text", "align": "left", "baseline": "middle", "fontSize": 16, "color": "black"}, "encoding": {"x": {"datum": 0.4}, "y": {"datum": 58}, "text": {"field": "name"}}},
   {"transform": [{"filter": "isValid(datum.mz)"}], "mark": {"type": "text", "align": "left", "baseline": "middle", "fontSize": 16, "color": "black"}, "encoding": {"x": {"datum": 0.4}, "y": {"datum": 20}, "text": {"field": "mz"}}},
   {"transform": [{"filter": "isValid(datum.pre)"}], "mark": {"type": "text", "align": "left", "baseline": "middle", "fontSize": 16, "fontStyle": "italic", "color": "black"}, "encoding": {"x": {"datum": 0.4}, "y": {"datum": 20}, "text": {"value": "m/z"}}},
   {"transform": [{"filter": "isValid(datum.pre)"}], "mark": {"type": "text", "align": "left", "baseline": "middle", "fontSize": 16, "dx": 30, "color": "black"}, "encoding": {"x": {"datum": 0.4}, "y": {"datum": 20}, "text": {"field": "pre"}}},
   {"transform": [{"filter": "isValid(datum.pre) && length(datum.pre) == 6"}], "mark": {"type": "text", "align": "center", "baseline": "middle", "fontSize": 14, "dx": 92, "color": "black"}, "encoding": {"x": {"datum": 0.4}, "y": {"datum": 20}, "text": {"value": "➔"}}},
   {"transform": [{"filter": "isValid(datum.pre) && length(datum.pre) == 5"}], "mark": {"type": "text", "align": "center", "baseline": "middle", "fontSize": 14, "dx": 83, "color": "black"}, "encoding": {"x": {"datum": 0.4}, "y": {"datum": 20}, "text": {"value": "➔"}}},
   {"transform": [{"filter": "isValid(datum.pre) && length(datum.pre) == 6"}], "mark": {"type": "text", "align": "left", "baseline": "middle", "fontSize": 16, "fontStyle": "italic", "dx": 104, "color": "black"}, "encoding": {"x": {"datum": 0.4}, "y": {"datum": 20}, "text": {"value": "m/z"}}},
   {"transform": [{"filter": "isValid(datum.pre) && length(datum.pre) == 5"}], "mark": {"type": "text", "align": "left", "baseline": "middle", "fontSize": 16, "fontStyle": "italic", "dx": 95, "color": "black"}, "encoding": {"x": {"datum": 0.4}, "y": {"datum": 20}, "text": {"value": "m/z"}}},
   {"transform": [{"filter": "isValid(datum.pre) && length(datum.pre) == 6"}], "mark": {"type": "text", "align": "left", "baseline": "middle", "fontSize": 16, "dx": 136, "color": "black"}, "encoding": {"x": {"datum": 0.4}, "y": {"datum": 20}, "text": {"field": "pro"}}},
   {"transform": [{"filter": "isValid(datum.pre) && length(datum.pre) == 5"}], "mark": {"type": "text", "align": "left", "baseline": "middle", "fontSize": 16, "dx": 127, "color": "black"}, "encoding": {"x": {"datum": 0.4}, "y": {"datum": 20}, "text": {"field": "pro"}}},
   {"transform": [{"filter": "isValid(datum.lx)"}], "mark": {"type": "text", "align": "left", "baseline": "middle", "fontSize": 12, "color": "black"}, "encoding": {"x": {"field": "lx", "type": "quantitative"}, "y": {"field": "ly", "type": "quantitative"}, "text": {"value": "t"}}},
   {"transform": [{"filter": "isValid(datum.lx)"}], "mark": {"type": "text", "align": "left", "baseline": "middle", "fontSize": 8, "dx": 3.4, "dy": 3, "color": "black"}, "encoding": {"x": {"field": "lx", "type": "quantitative"}, "y": {"field": "ly", "type": "quantitative"}, "text": {"value": "R"}}},
   {"transform": [{"filter": "isValid(datum.lx)"}], "mark": {"type": "text", "align": "left", "baseline": "middle", "fontSize": 12, "dx": 9.3, "color": "black"}, "encoding": {"x": {"field": "lx", "type": "quantitative"}, "y": {"field": "ly", "type": "quantitative"}, "text": {"field": "tr"}}},
   {"transform": [{"filter": "isValid(datum.note)"}], "mark": {"type": "text", "align": "left", "baseline": "middle", "fontSize": 16, "color": "black"}, "encoding": {"x": {"field": "nx", "type": "quantitative"}, "y": {"field": "ny", "type": "quantitative"}, "text": {"field": "note"}}},
   {"transform": [{"filter": "datum.k == 1 && isValid(datum.name)"}], "mark": {"type": "rule", "color": "black", "strokeWidth": 1}, "encoding": {"x": {"datum": 10.18}, "y": {"datum": 25.5}, "x2": {"datum": 10.82}, "y2": {"datum": 14.5}}},
   {"transform": [{"filter": "datum.k == 1 && isValid(datum.name)"}], "mark": {"type": "point", "shape": "triangle-right", "filled": true, "color": "black", "opacity": 1, "size": 26, "angle": 25}, "encoding": {"x": {"datum": 10.88}, "y": {"datum": 13.6}}}
  ]}}
]},
{"spacing": 6, "vconcat": [
 {"width": 432, "height": 62, "layer": [
  {"data": {"name": "gAB"}, "mark": {"type": "line", "strokeWidth": 1.5}, "encoding": {
    "x": {"field": "t", "type": "quantitative", "scale": {"domain": [0, 23], "nice": false}, "axis": {"values": [0,1,2,3,4,5,6,7,8,9,10,11,12,13,14,15,16,17,18,19,20,21,22,23], "tickCount": 30, "labelFontSize": 12, "labelFlush": false, "labelOverlap": false, "tickSize": 4, "labelPadding": 1, "title": null}},
    "y": {"field": "v", "type": "quantitative", "scale": {"domain": [0, 100]}, "axis": {"values": [0, 50, 100], "tickCount": 10, "labelFontSize": 12, "labelOverlap": false, "tickSize": 4, "labelPadding": 1, "title": "%B", "titleFontSize": 15, "titleFontWeight": "normal", "titlePadding": -1}},
    "color": {"field": "g", "type": "nominal", "scale": {"domain": ["programed", "shifted"], "range": ["#b8b8b8", "#000000"]}, "legend": null}}},
  {"data": {"values": [{"s": "(B)"}]}, "mark": {"type": "text", "align": "left", "baseline": "middle", "fontSize": 28, "color": "black"}, "encoding": {"x": {"datum": 0.25}, "y": {"datum": 69}, "text": {"field": "s"}}},
  {"data": {"values": [{"s": "Programed gradient"}]}, "mark": {"type": "text", "align": "center", "baseline": "middle", "fontSize": 14, "color": "#b0b0b0"}, "encoding": {"x": {"datum": 6.7}, "y": {"datum": 95}, "text": {"field": "s"}}},
  {"data": {"values": [{"s": "Gradient due to delay"}]}, "mark": {"type": "text", "align": "center", "baseline": "middle", "fontSize": 14, "color": "black"}, "encoding": {"x": {"datum": 17.75}, "y": {"datum": 95}, "text": {"field": "s"}}}
 ]},
 {"data": {"name": "tB"}, "spacing": {"row": 6},
  "facet": {"row": {"field": "k", "type": "ordinal", "header": {"labels": false, "title": "Relative intensity", "titleFontSize": 15, "titleFontWeight": "normal", "titlePadding": -8, "labelPadding": 0}}},
  "spec": {"width": 432, "height": 53, "layer": [
   {"transform": [{"filter": "isValid(datum.name)"}], "mark": {"type": "rule", "color": "black", "strokeWidth": 1.2}, "encoding": {"y": {"datum": 0}}},
   {"transform": [{"filter": "isValid(datum.v)"}], "mark": {"type": "line", "color": "black", "strokeWidth": 1.1}, "encoding": {
     "x": {"field": "t", "type": "quantitative", "scale": {"domain": [0, 23], "nice": false}, "axis": {"values": [0,1,2,3,4,5,6,7,8,9,10,11,12,13,14,15,16,17,18,19,20,21,22,23], "tickCount": 30, "labelFontSize": 12, "labelFlush": false, "labelOverlap": false, "tickSize": 4, "labelPadding": 0, "title": "Time (min)", "titleFontSize": 14, "titleFontWeight": "normal", "titlePadding": 2}},
     "y": {"field": "v", "type": "quantitative", "scale": {"domain": [0, 100], "nice": false}, "axis": {"values": [0,20,40,60,80,100], "tickCount": 12, "labelFontSize": 10, "tickSize": 3, "labelPadding": 1, "title": null, "labelOverlap": false}}}},
   {"transform": [{"filter": "isValid(datum.name)"}], "mark": {"type": "text", "align": "left", "baseline": "middle", "fontSize": 11, "color": "black"}, "encoding": {"x": {"datum": 0.2}, "y": {"datum": 92}, "text": {"field": "inten"}}},
   {"transform": [{"filter": "isValid(datum.name)"}], "mark": {"type": "text", "align": "left", "baseline": "middle", "fontSize": 16, "color": "black"}, "encoding": {"x": {"datum": 0.4}, "y": {"datum": 58}, "text": {"field": "name"}}},
   {"transform": [{"filter": "isValid(datum.pre)"}], "mark": {"type": "text", "align": "left", "baseline": "middle", "fontSize": 16, "fontStyle": "italic", "color": "black"}, "encoding": {"x": {"datum": 0.4}, "y": {"datum": 20}, "text": {"value": "m/z"}}},
   {"transform": [{"filter": "isValid(datum.pre)"}], "mark": {"type": "text", "align": "left", "baseline": "middle", "fontSize": 16, "dx": 30, "color": "black"}, "encoding": {"x": {"datum": 0.4}, "y": {"datum": 20}, "text": {"field": "pre"}}},
   {"transform": [{"filter": "isValid(datum.pre) && length(datum.pre) == 6"}], "mark": {"type": "text", "align": "center", "baseline": "middle", "fontSize": 14, "dx": 92, "color": "black"}, "encoding": {"x": {"datum": 0.4}, "y": {"datum": 20}, "text": {"value": "➔"}}},
   {"transform": [{"filter": "isValid(datum.pre) && length(datum.pre) == 5"}], "mark": {"type": "text", "align": "center", "baseline": "middle", "fontSize": 14, "dx": 83, "color": "black"}, "encoding": {"x": {"datum": 0.4}, "y": {"datum": 20}, "text": {"value": "➔"}}},
   {"transform": [{"filter": "isValid(datum.pre) && length(datum.pre) == 6"}], "mark": {"type": "text", "align": "left", "baseline": "middle", "fontSize": 16, "fontStyle": "italic", "dx": 104, "color": "black"}, "encoding": {"x": {"datum": 0.4}, "y": {"datum": 20}, "text": {"value": "m/z"}}},
   {"transform": [{"filter": "isValid(datum.pre) && length(datum.pre) == 5"}], "mark": {"type": "text", "align": "left", "baseline": "middle", "fontSize": 16, "fontStyle": "italic", "dx": 95, "color": "black"}, "encoding": {"x": {"datum": 0.4}, "y": {"datum": 20}, "text": {"value": "m/z"}}},
   {"transform": [{"filter": "isValid(datum.pre) && length(datum.pre) == 6"}], "mark": {"type": "text", "align": "left", "baseline": "middle", "fontSize": 16, "dx": 136, "color": "black"}, "encoding": {"x": {"datum": 0.4}, "y": {"datum": 20}, "text": {"field": "pro"}}},
   {"transform": [{"filter": "isValid(datum.pre) && length(datum.pre) == 5"}], "mark": {"type": "text", "align": "left", "baseline": "middle", "fontSize": 16, "dx": 127, "color": "black"}, "encoding": {"x": {"datum": 0.4}, "y": {"datum": 20}, "text": {"field": "pro"}}},
   {"transform": [{"filter": "isValid(datum.lx)"}], "mark": {"type": "text", "align": "left", "baseline": "middle", "fontSize": 12, "color": "black"}, "encoding": {"x": {"field": "lx", "type": "quantitative"}, "y": {"field": "ly", "type": "quantitative"}, "text": {"value": "t"}}},
   {"transform": [{"filter": "isValid(datum.lx)"}], "mark": {"type": "text", "align": "left", "baseline": "middle", "fontSize": 8, "dx": 3.4, "dy": 3, "color": "black"}, "encoding": {"x": {"field": "lx", "type": "quantitative"}, "y": {"field": "ly", "type": "quantitative"}, "text": {"value": "R"}}},
   {"transform": [{"filter": "isValid(datum.lx)"}], "mark": {"type": "text", "align": "left", "baseline": "middle", "fontSize": 12, "dx": 9.3, "color": "black"}, "encoding": {"x": {"field": "lx", "type": "quantitative"}, "y": {"field": "ly", "type": "quantitative"}, "text": {"field": "tr"}}},
   {"transform": [{"filter": "isValid(datum.note)"}], "mark": {"type": "text", "align": "left", "baseline": "middle", "fontSize": 16, "color": "black"}, "encoding": {"x": {"field": "nx", "type": "quantitative"}, "y": {"field": "ny", "type": "quantitative"}, "text": {"field": "note"}}},
   {"transform": [{"filter": "datum.k == 1 && isValid(datum.name)"}], "mark": {"type": "rule", "color": "black", "strokeWidth": 1}, "encoding": {"x": {"datum": 9.95}, "y": {"datum": 68}, "x2": {"datum": 10.86}, "y2": {"datum": 19}}},
   {"transform": [{"filter": "datum.k == 1 && isValid(datum.name)"}], "mark": {"type": "point", "shape": "triangle-right", "filled": true, "color": "black", "opacity": 1, "size": 26, "angle": 56}, "encoding": {"x": {"datum": 10.92}, "y": {"datum": 16}}},
   {"transform": [{"filter": "datum.k == 2 && isValid(datum.name)"}], "mark": {"type": "rule", "color": "black", "strokeWidth": 1}, "encoding": {"x": {"datum": 9.95}, "y": {"datum": 67}, "x2": {"datum": 10.82}, "y2": {"datum": 29}}},
   {"transform": [{"filter": "datum.k == 2 && isValid(datum.name)"}], "mark": {"type": "point", "shape": "triangle-right", "filled": true, "color": "black", "opacity": 1, "size": 26, "angle": 51}, "encoding": {"x": {"datum": 10.87}, "y": {"datum": 26}}},
   {"transform": [{"filter": "datum.k == 5 && isValid(datum.name)"}], "mark": {"type": "rule", "color": "black", "strokeWidth": 1}, "encoding": {"x": {"datum": 9.95}, "y": {"datum": 87}, "x2": {"datum": 11.3}, "y2": {"datum": 51.5}}},
   {"transform": [{"filter": "datum.k == 5 && isValid(datum.name)"}], "mark": {"type": "point", "shape": "triangle-right", "filled": true, "color": "black", "opacity": 1, "size": 26, "angle": 37}, "encoding": {"x": {"datum": 11.37}, "y": {"datum": 49}}}
  ]}},
 {"width": 432, "height": 62, "layer": [
  {"data": {"name": "gCD"}, "mark": {"type": "line", "strokeWidth": 1.5}, "encoding": {
    "x": {"field": "t", "type": "quantitative", "scale": {"domain": [0, 23], "nice": false}, "axis": {"values": [0,1,2,3,4,5,6,7,8,9,10,11,12,13,14,15,16,17,18,19,20,21,22,23], "tickCount": 30, "labelFontSize": 12, "labelFlush": false, "labelOverlap": false, "tickSize": 4, "labelPadding": 1, "title": null}},
    "y": {"field": "v", "type": "quantitative", "scale": {"domain": [0, 100]}, "axis": {"values": [0, 50, 100], "tickCount": 10, "labelFontSize": 12, "labelOverlap": false, "tickSize": 4, "labelPadding": 1, "title": "%B", "titleFontSize": 15, "titleFontWeight": "normal", "titlePadding": -1}},
    "color": {"field": "g", "type": "nominal", "scale": {"domain": ["programed", "shifted"], "range": ["#b8b8b8", "#000000"]}, "legend": null}}},
  {"data": {"values": [{"s": "(D)"}]}, "mark": {"type": "text", "align": "left", "baseline": "middle", "fontSize": 28, "color": "black"}, "encoding": {"x": {"datum": 0.18}, "y": {"datum": 69}, "text": {"field": "s"}}},
  {"data": {"values": [{"s": "Programed gradient"}]}, "mark": {"type": "text", "align": "center", "baseline": "middle", "fontSize": 14, "color": "#b0b0b0"}, "encoding": {"x": {"datum": 6.7}, "y": {"datum": 95}, "text": {"field": "s"}}},
  {"data": {"values": [{"s": "Gradient due to delay"}]}, "mark": {"type": "text", "align": "center", "baseline": "middle", "fontSize": 14, "color": "black"}, "encoding": {"x": {"datum": 17.75}, "y": {"datum": 95}, "text": {"field": "s"}}}
 ]},
 {"data": {"name": "tD"}, "spacing": {"row": 6},
  "title": {"text": "Human urocortin-3 not included.", "orient": "bottom", "anchor": "start", "frame": "group", "fontSize": 16, "fontWeight": "normal", "offset": 16},
  "facet": {"row": {"field": "k", "type": "ordinal", "header": {"labels": false, "title": "Relative intensity", "titleFontSize": 15, "titleFontWeight": "normal", "titlePadding": -8, "labelPadding": 0}}},
  "spec": {"width": 432, "height": 53, "layer": [
   {"transform": [{"filter": "isValid(datum.name)"}], "mark": {"type": "rule", "color": "black", "strokeWidth": 1.2}, "encoding": {"y": {"datum": 0}}},
   {"transform": [{"filter": "isValid(datum.v)"}], "mark": {"type": "line", "color": "black", "strokeWidth": 1.1}, "encoding": {
     "x": {"field": "t", "type": "quantitative", "scale": {"domain": [0, 23], "nice": false}, "axis": {"values": [0,1,2,3,4,5,6,7,8,9,10,11,12,13,14,15,16,17,18,19,20,21,22,23], "tickCount": 30, "labelFontSize": 12, "labelFlush": false, "labelOverlap": false, "tickSize": 4, "labelPadding": 0, "title": "Time (min)", "titleFontSize": 14, "titleFontWeight": "normal", "titlePadding": 2}},
     "y": {"field": "v", "type": "quantitative", "scale": {"domain": [0, 100], "nice": false}, "axis": {"values": [0,20,40,60,80,100], "tickCount": 12, "labelFontSize": 10, "tickSize": 3, "labelPadding": 1, "title": null, "labelOverlap": false}}}},
   {"transform": [{"filter": "isValid(datum.name)"}], "mark": {"type": "text", "align": "left", "baseline": "middle", "fontSize": 11, "color": "black"}, "encoding": {"x": {"datum": 0.2}, "y": {"datum": 92}, "text": {"field": "inten"}}},
   {"transform": [{"filter": "isValid(datum.name)"}], "mark": {"type": "text", "align": "left", "baseline": "middle", "fontSize": 16, "color": "black"}, "encoding": {"x": {"datum": 0.4}, "y": {"datum": 58}, "text": {"field": "name"}}},
   {"transform": [{"filter": "isValid(datum.pre)"}], "mark": {"type": "text", "align": "left", "baseline": "middle", "fontSize": 16, "fontStyle": "italic", "color": "black"}, "encoding": {"x": {"datum": 0.4}, "y": {"datum": 20}, "text": {"value": "m/z"}}},
   {"transform": [{"filter": "isValid(datum.pre)"}], "mark": {"type": "text", "align": "left", "baseline": "middle", "fontSize": 16, "dx": 30, "color": "black"}, "encoding": {"x": {"datum": 0.4}, "y": {"datum": 20}, "text": {"field": "pre"}}},
   {"transform": [{"filter": "isValid(datum.pre) && length(datum.pre) == 6"}], "mark": {"type": "text", "align": "center", "baseline": "middle", "fontSize": 14, "dx": 92, "color": "black"}, "encoding": {"x": {"datum": 0.4}, "y": {"datum": 20}, "text": {"value": "➔"}}},
   {"transform": [{"filter": "isValid(datum.pre) && length(datum.pre) == 5"}], "mark": {"type": "text", "align": "center", "baseline": "middle", "fontSize": 14, "dx": 83, "color": "black"}, "encoding": {"x": {"datum": 0.4}, "y": {"datum": 20}, "text": {"value": "➔"}}},
   {"transform": [{"filter": "isValid(datum.pre) && length(datum.pre) == 6"}], "mark": {"type": "text", "align": "left", "baseline": "middle", "fontSize": 16, "fontStyle": "italic", "dx": 104, "color": "black"}, "encoding": {"x": {"datum": 0.4}, "y": {"datum": 20}, "text": {"value": "m/z"}}},
   {"transform": [{"filter": "isValid(datum.pre) && length(datum.pre) == 5"}], "mark": {"type": "text", "align": "left", "baseline": "middle", "fontSize": 16, "fontStyle": "italic", "dx": 95, "color": "black"}, "encoding": {"x": {"datum": 0.4}, "y": {"datum": 20}, "text": {"value": "m/z"}}},
   {"transform": [{"filter": "isValid(datum.pre) && length(datum.pre) == 6"}], "mark": {"type": "text", "align": "left", "baseline": "middle", "fontSize": 16, "dx": 136, "color": "black"}, "encoding": {"x": {"datum": 0.4}, "y": {"datum": 20}, "text": {"field": "pro"}}},
   {"transform": [{"filter": "isValid(datum.pre) && length(datum.pre) == 5"}], "mark": {"type": "text", "align": "left", "baseline": "middle", "fontSize": 16, "dx": 127, "color": "black"}, "encoding": {"x": {"datum": 0.4}, "y": {"datum": 20}, "text": {"field": "pro"}}},
   {"transform": [{"filter": "isValid(datum.lx)"}], "mark": {"type": "text", "align": "left", "baseline": "middle", "fontSize": 12, "color": "black"}, "encoding": {"x": {"field": "lx", "type": "quantitative"}, "y": {"field": "ly", "type": "quantitative"}, "text": {"value": "t"}}},
   {"transform": [{"filter": "isValid(datum.lx)"}], "mark": {"type": "text", "align": "left", "baseline": "middle", "fontSize": 8, "dx": 3.4, "dy": 3, "color": "black"}, "encoding": {"x": {"field": "lx", "type": "quantitative"}, "y": {"field": "ly", "type": "quantitative"}, "text": {"value": "R"}}},
   {"transform": [{"filter": "isValid(datum.lx)"}], "mark": {"type": "text", "align": "left", "baseline": "middle", "fontSize": 12, "dx": 9.3, "color": "black"}, "encoding": {"x": {"field": "lx", "type": "quantitative"}, "y": {"field": "ly", "type": "quantitative"}, "text": {"field": "tr"}}},
   {"transform": [{"filter": "isValid(datum.note)"}], "mark": {"type": "text", "align": "left", "baseline": "middle", "fontSize": 16, "color": "black"}, "encoding": {"x": {"field": "nx", "type": "quantitative"}, "y": {"field": "ny", "type": "quantitative"}, "text": {"field": "note"}}}
  ]}}
]}
]
}
